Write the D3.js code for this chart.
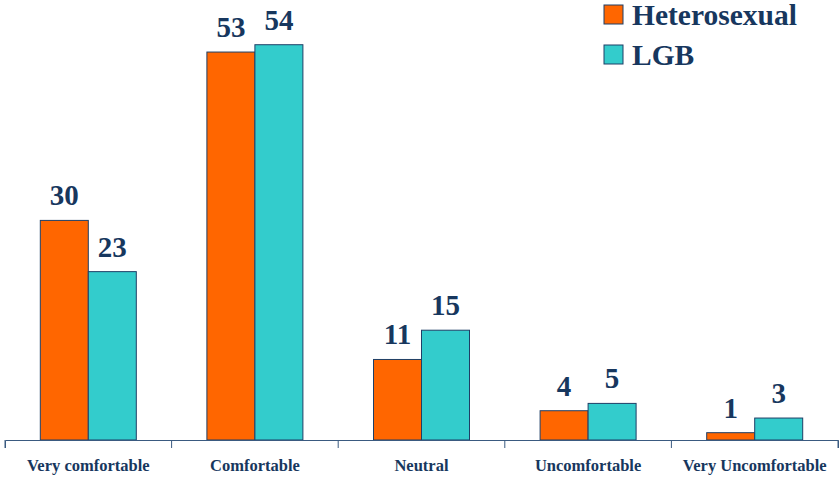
<!DOCTYPE html>
<html><head><meta charset="utf-8">
<script src="https://cdn.jsdelivr.net/npm/d3@7"></script>
<style>body{margin:0;background:#fff}svg{display:block}text{font-family:"Liberation Serif","Times New Roman",serif;font-weight:bold}</style>
</head><body>
<svg id="c" width="839" height="477"></svg>
<script>
const categories = ["Very comfortable","Comfortable","Neutral","Uncomfortable","Very Uncomfortable"];
const seriesNames = ["Heterosexual","LGB"];
const heterosexual = [30,53,11,4,1];
const lgb = [23,54,15,5,3];
const colors = ["#FF6600","#33CCCC"];
const navy = "#17375E";

const svg = d3.select("#c");
const x = d3.scaleBand().domain(categories).range([5,838]).paddingInner(0).paddingOuter(0);
const y = d3.scaleLinear().domain([0,60]).range([440,440-7.32*60]);
const barW = 48;
const series = [heterosexual, lgb];

const g = svg.append("g");
series.forEach((vals,si)=>{
  g.selectAll(null).data(vals).enter().append("rect")
    .attr("x",(d,i)=>x(categories[i])+x.bandwidth()/2-barW+si*barW)
    .attr("y",d=>y(d))
    .attr("width",barW)
    .attr("height",d=>y(0)-y(d))
    .attr("fill",colors[si])
    .attr("stroke","#1F3F66").attr("stroke-width",1);
  g.selectAll(null).data(vals).enter().append("text")
    .attr("x",(d,i)=>x(categories[i])+x.bandwidth()/2-barW/2+si*barW)
    .attr("y",d=>y(d)-15)
    .attr("text-anchor","middle")
    .attr("font-size",29)
    .attr("fill",navy).text(d=>d);
});

const axis = d3.axisBottom(x).tickSize(8).tickFormat("").tickSizeOuter(8);
const ax = svg.append("g").attr("transform","translate(0,440)").call(axis);
ax.select(".domain").attr("stroke","#3A5A80");
ax.selectAll(".tick line").attr("stroke","#3A5A80")
  .attr("transform",`translate(${-x.bandwidth()/2},0)`);
ax.append("line").attr("x1",838).attr("x2",838).attr("y1",0).attr("y2",8).attr("stroke","#3A5A80");

svg.append("g").selectAll("text").data(categories).enter().append("text")
  .attr("x",d=>x(d)+x.bandwidth()/2)
  .attr("y",471)
  .attr("text-anchor","middle")
  .attr("font-size",16.5)
  .attr("fill",navy).text(d=>d);

const leg = svg.append("g");
seriesNames.forEach((n,i)=>{
  leg.append("rect").attr("x",604).attr("y",5+i*40).attr("width",19).attr("height",19)
    .attr("fill",colors[i]).attr("stroke","#1F3F66").attr("stroke-width",1);
  leg.append("text").attr("x",632).attr("y",25+i*40)
    .attr("font-size",29.5)
    .attr("fill",navy).text(n);
});
</script>
</body></html>
